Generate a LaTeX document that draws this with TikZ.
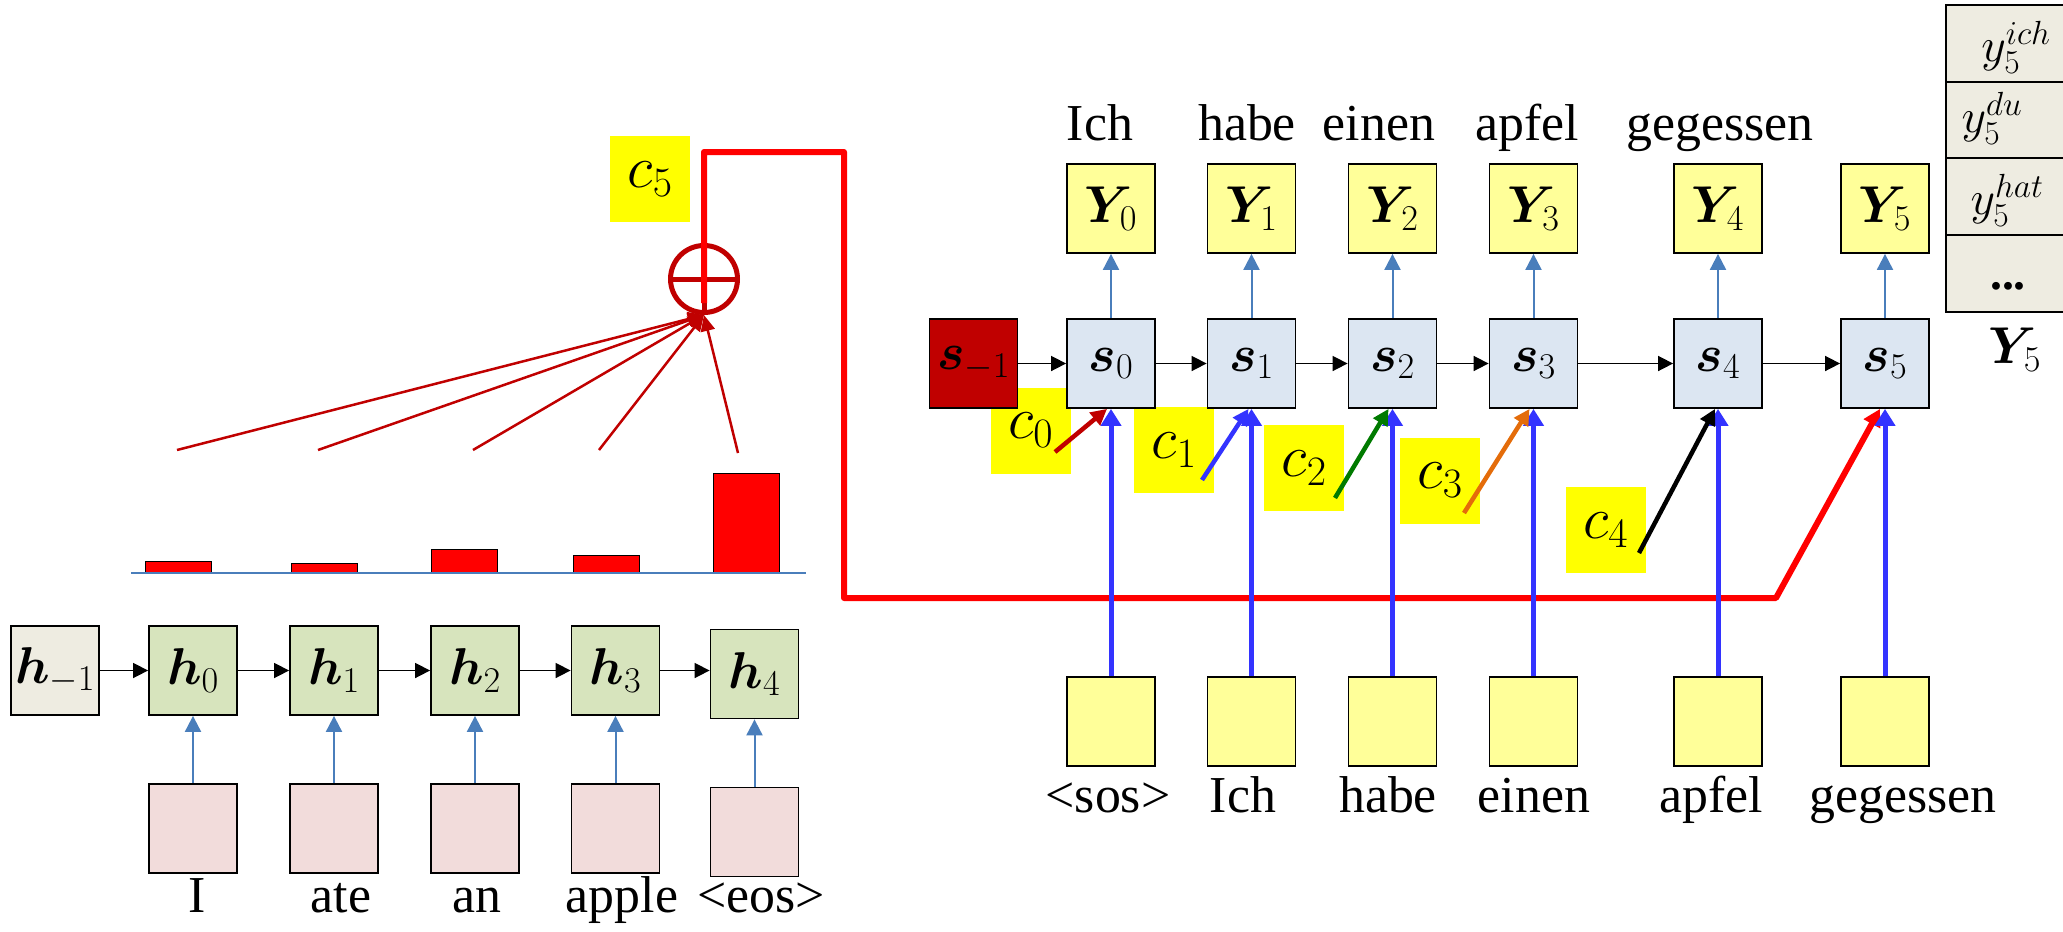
\RequirePackage{fix-cm}
\documentclass[tikz,border=0pt]{standalone}
\usepackage{amsmath,bm}
\usepackage{fontspec}
\setmainfont{Liberation Serif}
\usetikzlibrary{arrows.meta,calc}
\definecolor{hbeige}{HTML}{EEECE1}
\definecolor{hgreen}{HTML}{D7E4BD}
\definecolor{hpink}{HTML}{F2DCDB}
\definecolor{sblue}{HTML}{DCE6F2}
\definecolor{dred}{HTML}{C00000}
\definecolor{lyellow}{HTML}{FFFF99}
\definecolor{cyellow}{HTML}{FFFF00}
\definecolor{steel}{HTML}{4A7EBB}
\definecolor{vblue}{HTML}{3333FF}
\definecolor{cgreen}{HTML}{007A00}
\definecolor{corange}{HTML}{E46C0A}
\begin{document}
\begin{tikzpicture}[x=1bp,y={(0bp,-1bp)},
  big/.style={font=\fontsize{52}{62}\selectfont},
  rbox/.style={big,draw=black,line width=1.8bp,minimum width=88bp,minimum height=89bp,inner sep=0pt},
  word/.style={big,inner sep=0pt,anchor=base},
  cbox/.style={font=\fontsize{60}{70}\selectfont,fill=cyellow,minimum width=80bp,minimum height=86bp,inner sep=0pt},
  tcell/.style={draw=black,line width=1.8bp,fill=hbeige},
  tlab/.style={font=\fontsize{48}{56}\selectfont,inner sep=0pt},
  blackarr/.style={draw=black,line width=1.6bp,-{Triangle[length=15bp,width=15bp]}},
  thinarr/.style={draw=steel,line width=2bp,-{Triangle[length=16bp,width=16bp]}},
  thickarr/.style={draw=vblue,line width=5bp,-{Triangle[length=17bp,width=20bp]}},
  carr/.style={line width=4.5bp,-{Triangle[length=16bp,width=16bp]}},
  fan/.style={draw=dred,line width=2.5bp,-{Triangle[length=16bp,width=14bp]}},
  redpath/.style={draw=red,line width=6bp,line join=round,-{Triangle[length=17bp,width=18bp]}},
  bar/.style={fill=red,draw=black,line width=1bp}]
\useasboundingbox (0,0) rectangle (2063,932);
\clip (0,0) rectangle (2063,932);

% ---------------- encoder ----------------
\node[rbox,fill=hbeige] (hm) at (55,670.5) {$\bm{h}_{-1}$};
\node[rbox,fill=hgreen] (h0) at (193,670.5) {$\bm{h}_{0}$};
\node[rbox,fill=hgreen] (h1) at (334,670.5) {$\bm{h}_{1}$};
\node[rbox,fill=hgreen] (h2) at (475,670.5) {$\bm{h}_{2}$};
\node[rbox,fill=hgreen] (h3) at (615.5,670.5) {$\bm{h}_{3}$};
\node[rbox,fill=hgreen] (h4) at (754.5,674) {$\bm{h}_{4}$};
\node[rbox,fill=hpink] (x0) at (193,828.5) {};
\node[rbox,fill=hpink] (x1) at (334,828.5) {};
\node[rbox,fill=hpink] (x2) at (475,828.5) {};
\node[rbox,fill=hpink] (x3) at (615.5,828.5) {};
\node[rbox,fill=hpink] (x4) at (754.5,832) {};
\node[word] (wI) at (197,912) {I};
\node[word] (wate) at (341,912) {ate};
\node[word] (wan) at (477,912) {an};
\node[word] (wapple) at (622,912) {apple};
\node[word] (weos) at (761,912) {\textless{}eos\textgreater{}};
\draw[blackarr] (hm.east) -- (h0.west);
\draw[blackarr] (h0.east) -- (h1.west);
\draw[blackarr] (h1.east) -- (h2.west);
\draw[blackarr] (h2.east) -- (h3.west);
\draw[blackarr] (h3.east) -- (h3.east -| h4.west);
\foreach \i in {0,...,4} {\draw[thinarr] (x\i.north) -- (h\i.south);}

% ---------------- attention bars ----------------
\draw[bar] (145,573) rectangle (211,561);
\draw[bar] (291,573) rectangle (357,563);
\draw[bar] (431,573) rectangle (497,549);
\draw[bar] (573,573) rectangle (639,555);
\draw[bar] (713,573) rectangle (779,473);
\draw[steel,line width=2.5bp] (131,573) -- (806,573);

\node[circle,draw=dred,line width=5bp,minimum size=67bp,inner sep=0pt] (plus) at (704,279) {};
\draw[dred,line width=5bp] (plus.west) -- (plus.east) (plus.north) -- (plus.south);
\coordinate (f1) at (177,450);
\coordinate (f2) at (318,450);
\coordinate (f3) at (473,450);
\coordinate (f4) at (599,450);
\coordinate (f5) at (738,453);
\foreach \i in {1,...,5} {\draw[fan] (f\i) -- (plus.south);}
\node[cbox] (c5) at (650,179) {$c_5$};

% ---------------- decoder ----------------
\node[cbox] (c0) at (1030.5,430.5) {$c_0$};
\node[cbox] (c1) at (1174,450) {$c_1$};
\node[cbox] (c2) at (1304,468) {$c_2$};
\node[cbox] (c3) at (1440,480.5) {$c_3$};
\node[cbox] (c4) at (1605.5,530) {$c_4$};

\node[rbox,fill=dred] (sm) at (973.5,363.5) {$\bm{s}_{-1}$};
\node[rbox,fill=sblue] (s0) at (1111,363.5) {$\bm{s}_{0}$};
\node[rbox,fill=sblue] (s1) at (1251.5,363.5) {$\bm{s}_{1}$};
\node[rbox,fill=sblue] (s2) at (1392.5,363.5) {$\bm{s}_{2}$};
\node[rbox,fill=sblue] (s3) at (1533.5,363.5) {$\bm{s}_{3}$};
\node[rbox,fill=sblue] (s4) at (1718,363.5) {$\bm{s}_{4}$};
\node[rbox,fill=sblue] (s5) at (1885,363.5) {$\bm{s}_{5}$};

\node[rbox,fill=lyellow] (y0) at (1111,208.5) {$\bm{Y}_{0}$};
\node[rbox,fill=lyellow] (y1) at (1251.5,208.5) {$\bm{Y}_{1}$};
\node[rbox,fill=lyellow] (y2) at (1392.5,208.5) {$\bm{Y}_{2}$};
\node[rbox,fill=lyellow] (y3) at (1533.5,208.5) {$\bm{Y}_{3}$};
\node[rbox,fill=lyellow] (y4) at (1718,208.5) {$\bm{Y}_{4}$};
\node[rbox,fill=lyellow] (y5) at (1885,208.5) {$\bm{Y}_{5}$};

\node[rbox,fill=lyellow] (in0) at (1111,721.5) {};
\node[rbox,fill=lyellow] (in1) at (1251.5,721.5) {};
\node[rbox,fill=lyellow] (in2) at (1392.5,721.5) {};
\node[rbox,fill=lyellow] (in3) at (1533.5,721.5) {};
\node[rbox,fill=lyellow] (in4) at (1718,721.5) {};
\node[rbox,fill=lyellow] (in5) at (1885,721.5) {};

\node[word] (o0) at (1100,140) {Ich};
\node[word] (o1) at (1247,140) {habe};
\node[word] (o2) at (1379,140) {einen};
\node[word] (o3) at (1527,140) {apfel};
\node[word] (o4) at (1720,140) {gegessen};

\node[word] (i0) at (1108,812) {\textless{}sos\textgreater{}};
\node[word] (i1) at (1243,812) {Ich};
\node[word] (i2) at (1388,812) {habe};
\node[word] (i3) at (1534,812) {einen};
\node[word] (i4) at (1711,812) {apfel};
\node[word] (i5) at (1903,812) {gegessen};

\draw[blackarr] (sm.east) -- (s0.west);
\draw[blackarr] (s0.east) -- (s1.west);
\draw[blackarr] (s1.east) -- (s2.west);
\draw[blackarr] (s2.east) -- (s3.west);
\draw[blackarr] (s3.east) -- (s4.west);
\draw[blackarr] (s4.east) -- (s5.west);
\foreach \i in {0,...,5} {\draw[thinarr] (s\i.north) -- (y\i.south);}

% red context path c5
\coordinate (r0) at (704,303);
\coordinate (r1) at (704,152);
\coordinate (r2) at (844,152);
\coordinate (r3) at (844,598);
\coordinate (r4) at (1776,598);
\draw[redpath] (r0) -- (r1) -- (r2) -- (r3) -- (r4) -- ([xshift=-5bp]s5.south);

\foreach \i in {0,...,5} {\draw[thickarr] (in\i.north) -- (s\i.south);}

\coordinate (a0) at (1055,452);
\coordinate (a1) at (1202,480);
\coordinate (a2) at (1335,498);
\coordinate (a3) at (1464,513);
\coordinate (a4) at (1639,553);
\draw[carr,draw=dred] (a0) -- ([xshift=-4bp]s0.south);
\draw[carr,draw=vblue] (a1) -- ([xshift=-3bp]s1.south);
\draw[carr,draw=cgreen] (a2) -- ([xshift=-4bp]s2.south);
\draw[carr,draw=corange] (a3) -- ([xshift=-4bp]s3.south);
\draw[carr,draw=black] (a4) -- ([xshift=-3bp]s4.south);

% ---------------- vocabulary table ----------------
\draw[tcell] (1946,5) rectangle (2100,82);
\draw[tcell] (1946,82) rectangle (2100,158);
\draw[tcell] (1946,158) rectangle (2100,235);
\draw[tcell] (1946,235) rectangle (2100,312);
\node[tlab] (l1) at (2016,47) {$y_5^{ich}$};
\node[tlab] (l2) at (1992,118) {$y_5^{du}$};
\node[tlab] (l3) at (2007,200) {$y_5^{hat}$};
\node[tlab] (l4) at (2008,286) {\textbf{...}};
\node[big,inner sep=0pt] (yv) at (2015,350) {$\bm{Y}_5$};
\end{tikzpicture}
\end{document}
